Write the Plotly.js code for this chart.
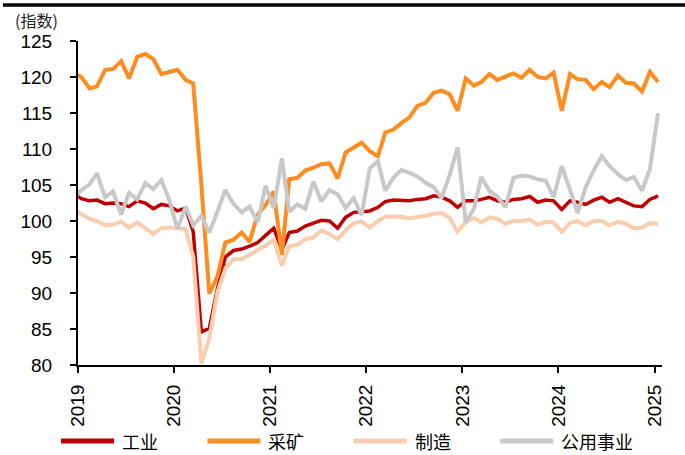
<!DOCTYPE html>
<html>
<head>
<meta charset="utf-8">
<script src="https://cdn.plot.ly/plotly-3.0.1.min.js"></script>
<style>html,body{margin:0;padding:0;background:#fff;}#chart{width:685px;height:455px;}</style>
</head>
<body>
<div id="chart"></div>
<script>
// Monthly categories (Dec 2018 point lies just left of the axis start and is clipped)
const months = [
  '2018-12',
  '2019-01','2019-02','2019-03','2019-04','2019-05','2019-06','2019-07','2019-08','2019-09','2019-10','2019-11','2019-12',
  '2020-01','2020-02','2020-03','2020-04','2020-05','2020-06','2020-07','2020-08','2020-09','2020-10','2020-11','2020-12',
  '2021-01','2021-02','2021-03','2021-04','2021-05','2021-06','2021-07','2021-08','2021-09','2021-10','2021-11','2021-12',
  '2022-01','2022-02','2022-03','2022-04','2022-05','2022-06','2022-07','2022-08','2022-09','2022-10','2022-11','2022-12',
  '2023-01','2023-02','2023-03','2023-04','2023-05','2023-06','2023-07','2023-08','2023-09','2023-10','2023-11','2023-12',
  '2024-01','2024-02','2024-03','2024-04','2024-05','2024-06','2024-07','2024-08','2024-09','2024-10','2024-11','2024-12',
  '2025-01'
];

const seriesNames = ['工业', '采矿', '制造', '公用事业'];
const yTitle = '(指数)';
const yearTicks = ['2019','2020','2021','2022','2023','2024','2025'];

const industry = [
  103.8,
  103.1,102.8,102.9,102.4,102.5,102.4,102.0,102.8,102.5,101.7,102.3,102.1,
  101.4,101.8,98.5,84.6,85.1,90.6,95.0,95.9,96.1,96.5,97.0,98.0,
  99.0,96.0,98.4,98.6,99.3,99.7,100.1,100.0,99.0,100.5,101.2,101.3,
  101.4,101.9,102.7,102.9,102.9,102.8,103.0,103.1,103.5,103.3,102.8,101.9,
  102.8,102.8,103.0,103.3,102.8,102.6,103.0,103.1,103.4,102.6,102.9,102.8,
  101.6,102.8,102.6,102.3,102.9,103.3,102.6,103.1,102.6,102.1,102.0,103.0,
  103.5
];
const mining = [
  120.6,
  120.0,118.4,118.7,121.0,121.1,122.2,119.8,122.8,123.2,122.5,120.4,120.7,
  121.0,119.6,119.1,105.0,89.9,92.3,97.0,97.4,98.4,97.1,100.9,102.2,
  104.1,95.3,105.8,106.0,107.0,107.4,107.9,108.0,105.9,109.5,110.2,110.9,
  109.7,109.0,112.3,112.7,113.6,114.4,116.0,116.4,117.8,118.1,117.6,115.3,
  119.8,118.8,119.3,120.4,119.6,120.1,120.5,119.9,121.0,120.0,119.8,120.6,
  115.3,120.4,119.7,119.6,118.3,119.3,118.6,120.2,119.2,119.1,118.0,120.7,
  119.3
];
const manufacturing = [
  101.6,
  101.0,100.3,100.0,99.4,99.5,99.9,99.1,99.8,99.0,98.2,99.0,99.1,
  99.0,98.9,95.0,80.2,83.7,90.1,93.4,94.7,94.7,95.3,95.9,96.6,
  97.4,93.8,96.5,96.7,97.5,97.7,98.7,98.2,97.5,98.7,99.7,99.9,
  99.1,100.0,100.6,100.6,100.6,100.4,100.5,100.7,101.0,101.1,100.4,98.5,
  99.9,100.4,99.8,100.5,100.3,99.6,100.0,100.0,100.2,99.5,99.9,99.8,
  98.5,99.7,100.0,99.4,100.0,100.0,99.4,99.9,99.6,99.0,99.1,99.7,
  99.6
];
const utilities = [
  103.2,
  104.3,105.1,106.6,103.3,104.1,100.9,103.9,103.0,105.3,104.4,105.7,102.9,
  98.9,102.0,99.4,100.7,98.4,101.3,104.3,102.4,101.2,102.0,99.8,104.9,
  101.8,108.7,101.3,102.3,101.7,105.5,102.7,104.3,103.7,101.8,103.2,100.8,
  107.3,108.3,104.2,106.0,107.1,106.7,106.2,105.3,104.7,103.2,106.4,110.2,
  99.8,101.7,106.1,104.2,103.4,101.9,106.0,106.3,106.2,105.8,105.6,103.3,
  107.6,104.4,101.1,104.7,107.0,109.0,107.6,106.5,105.7,106.1,104.2,107.2,
  115.0
];

const colors = ['#C00000', '#FF8C1F', '#F9CDAE', '#C8C8C8'];
const widths = [3.5, 4, 4, 4];
const values = [industry, mining, manufacturing, utilities];

// plotted at mid-month
const xDates = months.map(m => m + '-14');

const traces = values.map((v, i) => ({
  type: 'scatter', mode: 'lines', x: xDates, y: v, name: seriesNames[i],
  line: {color: colors[i], width: widths[i], shape: 'linear'},
  showlegend: false, hoverinfo: 'skip'
}));

const W = 685, H = 455, L = 78, R = 23, T = 41, B = 90;
const pw = W - L - R, ph = H - T - B;
const px = v => (v - L) / pw;
const py = v => (H - B - v) / ph;

const shapes = [
  {type: 'rect', xref: 'paper', yref: 'paper', x0: px(3), x1: px(685), y0: py(6.8), y1: py(3.3),
   fillcolor: '#000', line: {width: 0}}
];
const annotations = [
  {text: yTitle, xref: 'paper', yref: 'paper', x: px(13), y: py(20), xanchor: 'left', yanchor: 'middle',
   showarrow: false, font: {family: 'Noto Sans CJK SC, sans-serif', size: 16, color: '#222'}}
];
// manual legend
const legendY = 441, legendStart = 61, legendStep = 146.4;
seriesNames.forEach((n, i) => {
  const x0 = legendStart + i * legendStep;
  shapes.push({type: 'line', xref: 'paper', yref: 'paper', x0: px(x0), x1: px(x0 + 53),
    y0: py(legendY), y1: py(legendY), line: {color: colors[i], width: 5}});
  annotations.push({text: n, xref: 'paper', yref: 'paper', x: px(x0 + 59), y: py(legendY),
    xanchor: 'left', yanchor: 'middle', showarrow: false,
    font: {family: 'Noto Sans CJK SC, sans-serif', size: 18, color: '#000'}});
});

const layout = {
  width: W, height: H,
  margin: {l: L, r: R, t: T, b: B, pad: 0},
  showlegend: false,
  paper_bgcolor: '#fff', plot_bgcolor: '#fff',
  font: {family: 'Liberation Sans, Arial, sans-serif', color: '#000'},
  xaxis: {
    type: 'date', range: ['2019-01-01', '2025-01-29'],
    tickmode: 'array', tickvals: yearTicks.map(y => y + '-01-01'), ticktext: yearTicks,
    tickangle: -90, ticks: 'outside', ticklen: 6, tickwidth: 2, tickcolor: '#000',
    showline: true, linecolor: '#000', linewidth: 2, showgrid: false, zeroline: false,
    tickfont: {size: 19, color: '#000'}, ticklabelstandoff: 4, fixedrange: true
  },
  yaxis: {
    range: [80, 125], tickmode: 'linear', tick0: 80, dtick: 5,
    ticks: 'outside', ticklen: 6, tickwidth: 2, tickcolor: '#000',
    showline: true, linecolor: '#000', linewidth: 2, showgrid: false, zeroline: false,
    tickfont: {size: 19, color: '#000'}, ticklabelstandoff: 14, fixedrange: true
  },
  shapes: shapes,
  annotations: annotations
};

Plotly.newPlot('chart', traces, layout, {displayModeBar: false, staticPlot: true});
</script>
</body>
</html>
